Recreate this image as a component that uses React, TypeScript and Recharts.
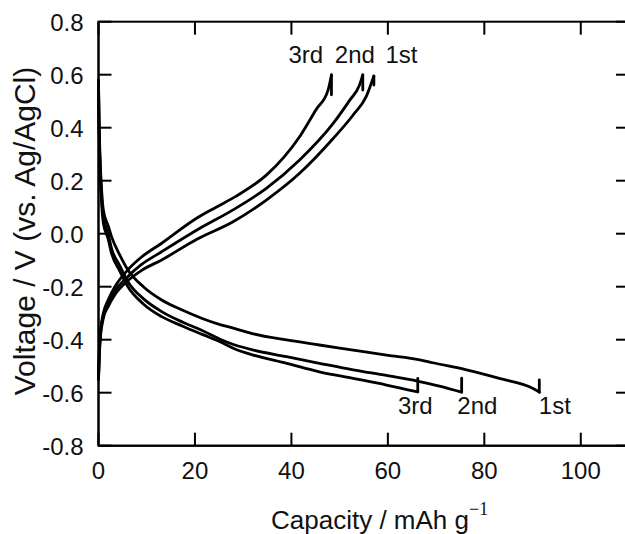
import React from "react";
import { LineChart, Line, XAxis, YAxis, ReferenceDot } from "recharts";

// charge curves (capacity mAh/g, voltage V)
const charge1st = [
  [0, -0.55], [0.15, -0.47], [0.4, -0.39], [1, -0.32], [2, -0.275], [3.4, -0.23], [5.9, -0.18],
  [8.8, -0.14], [13.1, -0.099], [20.5, -0.02], [27.9, 0.045], [34.8, 0.127], [41.7, 0.228],
  [48.7, 0.36], [52.8, 0.448], [55.5, 0.517], [57.1, 0.595], [57.1, 0.561],
];
const charge2nd = [
  [0, -0.55], [0.15, -0.46], [0.4, -0.38], [1, -0.31], [2, -0.26], [3.4, -0.215], [5.9, -0.165],
  [8.8, -0.118], [13.1, -0.068], [20.5, 0.015], [27.9, 0.09], [34.8, 0.171], [41.7, 0.278],
  [48.7, 0.417], [52.1, 0.504], [54.1, 0.56], [54.8, 0.599], [54.8, 0.542],
];
const charge3rd = [
  [0, -0.55], [0.15, -0.45], [0.4, -0.37], [1, -0.3], [2, -0.25], [3.4, -0.2], [5.9, -0.14],
  [8.8, -0.09], [13.1, -0.036], [20.5, 0.06], [24.4, 0.1], [28.3, 0.139], [34.8, 0.221],
  [38.5, 0.29], [41.7, 0.366], [45.1, 0.468], [47.6, 0.542], [48.3, 0.599], [48.3, 0.524],
];

// discharge curves
const discharge1st = [
  [0, 0.58], [0.1, 0.45], [0.3, 0.3], [0.6, 0.18], [1, 0.09], [2, 0.03], [2.7, -0.011], [4.4, -0.08],
  [6.1, -0.137], [9.3, -0.2], [13.1, -0.25], [17.6, -0.29], [21.5, -0.32], [25.2, -0.343],
  [28.3, -0.358], [32.1, -0.378], [39, -0.401], [45.8, -0.42], [52.8, -0.439], [59.7, -0.458],
  [66.6, -0.476], [69.3, -0.487], [76.3, -0.514], [83.1, -0.546], [90, -0.583], [91.4, -0.598],
  [91.4, -0.552],
];
const discharge2nd = [
  [0, 0.57], [0.1, 0.43], [0.3, 0.27], [0.6, 0.15], [1, 0.064], [2, 0.0], [2.7, -0.055], [4.4, -0.12],
  [6.1, -0.181], [9.3, -0.245], [13.1, -0.294], [17.6, -0.335], [21.5, -0.365], [25.2, -0.398],
  [28.3, -0.42], [32.1, -0.439], [39, -0.464], [45.8, -0.489], [52.8, -0.514], [59.7, -0.535],
  [66.3, -0.557], [70.7, -0.575], [75.3, -0.598], [75.3, -0.545],
];
const discharge3rd = [
  [0, 0.56], [0.1, 0.42], [0.3, 0.26], [0.6, 0.13], [1, 0.04], [2, -0.02], [2.7, -0.074], [4.4, -0.14],
  [6.1, -0.2], [9.3, -0.265], [13.1, -0.313], [17.6, -0.35], [21.5, -0.38], [25.2, -0.408],
  [28.3, -0.435], [32.1, -0.458], [39, -0.489], [45.8, -0.521], [52.8, -0.546], [59.7, -0.571],
  [66.2, -0.597], [66.2, -0.546],
];

const xDomain = [0, 110];
const yDomain = [-0.8, 0.8];
const xTicks = [0, 20, 40, 60, 80, 100];
const yTicks = [-0.8, -0.6, -0.4, -0.2, 0, 0.2, 0.4, 0.6, 0.8];

// cycle labels: [text, capacity, voltage]
const topLabels: [string, number, number][] = [
  ["3rd", 39.4, 0.645],
  ["2nd", 49.0, 0.645],
  ["1st", 59.5, 0.645],
];
const bottomLabels: [string, number, number][] = [
  ["3rd", 62.1, -0.68],
  ["2nd", 74.4, -0.68],
  ["1st", 91.3, -0.68],
];

const series = [charge1st, charge2nd, charge3rd, discharge1st, discharge2nd, discharge3rd];

const FONT = "'Liberation Sans', Arial, sans-serif";
const INK = "#111";

// chart geometry (plot box = margins + axis sizes)
const W = 640;
const H = 534;
const M = { top: 21.7, right: 11, left: 0, bottom: 28.3 };
const Y_AXIS_W = 98.5;
const X_AXIS_H = 60;
const PLOT = {
  left: M.left + Y_AXIS_W,
  right: W - M.right,
  top: M.top,
  bottom: H - M.bottom - X_AXIS_H,
};
const TICK_PX = 13;

const toRows = (arr: number[][]) => arr.map(([x, v]) => ({ x, v }));

const px = (v: number) =>
  PLOT.left + ((v - xDomain[0]) / (xDomain[1] - xDomain[0])) * (PLOT.right - PLOT.left);
const py = (v: number) =>
  PLOT.bottom - ((v - yDomain[0]) / (yDomain[1] - yDomain[0])) * (PLOT.bottom - PLOT.top);

// box frame with inward ticks on all four sides
function Frame() {
  const s = { stroke: "#000", strokeWidth: 2 };
  return (
    <svg
      width={625}
      height={534}
      style={{ position: "absolute", left: 0, top: 0, pointerEvents: "none" }}
    >
      <rect
        x={PLOT.left}
        y={PLOT.top}
        width={PLOT.right - PLOT.left}
        height={PLOT.bottom - PLOT.top}
        fill="none"
        {...s}
      />
      {xTicks.map((t) => (
        <g key={`x${t}`}>
          <line x1={px(t)} x2={px(t)} y1={PLOT.bottom} y2={PLOT.bottom - TICK_PX} {...s} />
          <line x1={px(t)} x2={px(t)} y1={PLOT.top} y2={PLOT.top + TICK_PX} {...s} />
        </g>
      ))}
      {yTicks.map((t) => (
        <g key={`y${t}`}>
          <line x1={PLOT.left} x2={PLOT.left + TICK_PX} y1={py(t)} y2={py(t)} {...s} />
          <line x1={PLOT.right} x2={PLOT.right - TICK_PX} y1={py(t)} y2={py(t)} {...s} />
        </g>
      ))}
    </svg>
  );
}

function BottomTick({ x, y, payload }: any) {
  return (
    <text x={x} y={y + 33} textAnchor="middle" fontSize={24} fontFamily={FONT} fill={INK}>
      {payload.value}
    </text>
  );
}

function LeftTick({ x, y, payload }: any) {
  return (
    <text x={x - 15} y={y + 9} textAnchor="end" fontSize={24} fontFamily={FONT} fill={INK}>
      {Number(payload.value).toFixed(1)}
    </text>
  );
}

function XTitle() {
  return (
    <text x={271} y={529} fontSize={26} fontFamily={FONT} fill={INK}>
      Capacity / mAh g
      <tspan dy={-14} fontSize={18} fontFamily="'Liberation Serif', 'Times New Roman', serif">
        −1
      </tspan>
    </text>
  );
}

function YTitle() {
  return (
    <text
      transform="translate(35,231) rotate(-90)"
      textAnchor="middle"
      fontSize={30}
      fontFamily={FONT}
      fill={INK}
    >
      Voltage / V (vs. Ag/AgCl)
    </text>
  );
}

function CycleLabel({ viewBox, text }: any) {
  const cx = viewBox ? viewBox.x + (viewBox.width || 0) / 2 : 0;
  const cy = viewBox ? viewBox.y + (viewBox.height || 0) / 2 : 0;
  return (
    <text x={cx} y={cy} fontSize={24} fontFamily={FONT} fill={INK}>
      {text}
    </text>
  );
}

export default function App() {
  return (
    <div
      style={{
        position: "fixed",
        left: 0,
        top: 0,
        width: 625,
        height: 534,
        overflow: "hidden",
        background: "#fff",
      }}
    >
      <LineChart width={W} height={H} margin={M}>
        <XAxis
          dataKey="x"
          type="number"
          domain={xDomain}
          ticks={xTicks}
          axisLine={{ stroke: "#000", strokeWidth: 2 }}
          tickLine={false}
          tickSize={0}
          tickMargin={0}
          height={X_AXIS_H}
          tick={<BottomTick />}
          label={<XTitle />}
        />
        <YAxis
          dataKey="v"
          type="number"
          domain={yDomain}
          ticks={yTicks}
          axisLine={{ stroke: "#000", strokeWidth: 2 }}
          tickLine={false}
          tickSize={0}
          tickMargin={0}
          width={Y_AXIS_W}
          tick={<LeftTick />}
          label={<YTitle />}
        />

        {/* curve bodies (smooth) and the final rest step (straight) */}
        {series.map((s, i) => (
          <Line
            key={`b${i}`}
            data={toRows(s.slice(0, -1))}
            dataKey="v"
            type="monotoneX"
            stroke="#000"
            strokeWidth={2.8}
            strokeLinejoin="round"
            strokeLinecap="round"
            dot={false}
            activeDot={false}
            isAnimationActive={false}
          />
        ))}
        {series.map((s, i) => (
          <Line
            key={`e${i}`}
            data={toRows(s.slice(-2))}
            dataKey="v"
            type="linear"
            stroke="#000"
            strokeWidth={2.8}
            strokeLinecap="round"
            dot={false}
            activeDot={false}
            isAnimationActive={false}
          />
        ))}

        {[...topLabels, ...bottomLabels].map(([t, x, y], i) => (
          <ReferenceDot
            key={`l${i}`}
            x={x}
            y={y}
            r={0}
            fill="none"
            stroke="none"
            label={<CycleLabel text={t} />}
          />
        ))}
      </LineChart>
      <Frame />
    </div>
  );
}
